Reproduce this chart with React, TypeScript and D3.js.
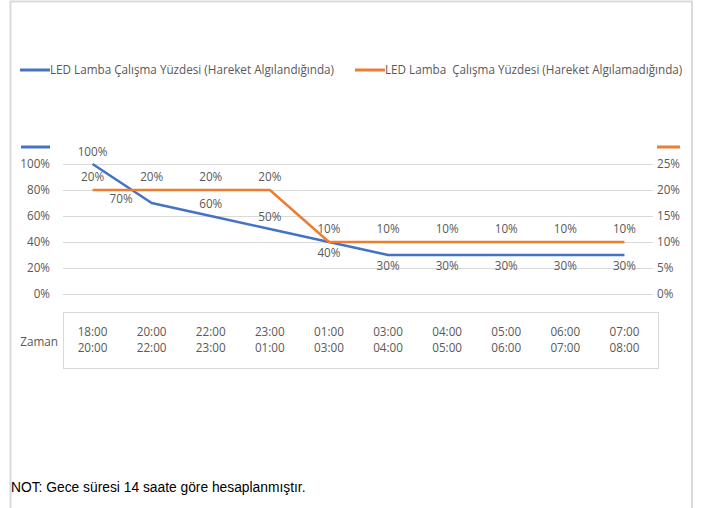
// Externals
import * as d3 from 'd3'
import React, { useEffect, useRef } from 'react'

// Chart data
const startTimes = ['18:00', '20:00', '22:00', '23:00', '01:00', '03:00', '04:00', '05:00', '06:00', '07:00']
const endTimes = ['20:00', '22:00', '23:00', '01:00', '03:00', '04:00', '05:00', '06:00', '07:00', '08:00']
const detectedValues = [1.0, 0.7, 0.6, 0.5, 0.4, 0.3, 0.3, 0.3, 0.3, 0.3]
const notDetectedValues = [0.2, 0.2, 0.2, 0.2, 0.1, 0.1, 0.1, 0.1, 0.1, 0.1]
const leftTicks = [0, 0.2, 0.4, 0.6, 0.8, 1.0]
const rightTicks = [0, 0.05, 0.1, 0.15, 0.2, 0.25]
const detectedName = 'LED Lamba Çalışma Yüzdesi (Hareket Algılandığında)'
const notDetectedName = 'LED Lamba  Çalışma Yüzdesi (Hareket Algılamadığında)'

// where the blue data labels sit (Excel placed them by hand)
const detectedLabelPos = ['above', 'left', 'above', 'above', 'below', 'below', 'below', 'below', 'below', 'below']

const BLUE = '#4472C4'
const ORANGE = '#ED7D31'
const GREY = '#595959'
const GRID = '#d9d9d9'
const FONT = '"Open Sans", sans-serif'
const FS = 11.7

const App = () => {
  const svgRef = useRef<any>(null)

  useEffect(() => {
    if (!svgRef.current) return
    const svg = d3.select(svgRef.current)
    svg.selectAll('*').remove()

    const width = 704
    const height = 508
    svg.attr('width', width).attr('height', height)

    const x = d3.scaleBand().domain(startTimes.map((d, i) => String(i))).range([63, 654])
    const cx = (i: number) => (x(String(i)) as number) + x.bandwidth() / 2
    const yLeft = d3.scaleLinear().domain([0, 1]).range([294, 164])
    const yRight = d3.scaleLinear().domain([0, 0.25]).range([294, 164])
    const pct = d3.format('.0%')

    // chart frame
    svg.append('path')
      .attr('d', `M10.5,${height} V1.5 H692 V${height}`)
      .attr('fill', 'none')
      .attr('stroke', GRID)
      .attr('stroke-width', 2)

    // legend
    const legend = [
      { name: detectedName, color: BLUE, x: 20 },
      { name: notDetectedName, color: ORANGE, x: 355 },
    ]
    legend.forEach((l) => {
      svg.append('line')
        .attr('x1', l.x).attr('x2', l.x + 30)
        .attr('y1', 70).attr('y2', 70)
        .attr('stroke', l.color).attr('stroke-width', 3)
      svg.append('text')
        .attr('x', l.x + 30).attr('y', 74)
        .attr('font-family', FONT).attr('font-size', FS)
        .attr('fill', GREY)
        .style('white-space', 'pre')
        .text(l.name)
    })

    // series markers above axes
    svg.append('line').attr('x1', 21).attr('x2', 50).attr('y1', 147).attr('y2', 147)
      .attr('stroke', BLUE).attr('stroke-width', 3)
    svg.append('line').attr('x1', 657).attr('x2', 680).attr('y1', 147).attr('y2', 147)
      .attr('stroke', ORANGE).attr('stroke-width', 3)

    // gridlines + axes
    svg.selectAll('.grid')
      .data(leftTicks)
      .enter()
      .append('line')
      .attr('class', 'grid')
      .attr('x1', 63).attr('x2', 653)
      .attr('y1', (d) => Math.round(yLeft(d)) + 0.5)
      .attr('y2', (d) => Math.round(yLeft(d)) + 0.5)
      .attr('stroke', GRID).attr('stroke-width', 1)

    svg.selectAll('.left-tick')
      .data(leftTicks)
      .enter()
      .append('text')
      .attr('class', 'left-tick')
      .attr('x', 50).attr('y', (d) => yLeft(d))
      .attr('dy', '0.35em')
      .attr('text-anchor', 'end')
      .attr('font-family', FONT).attr('font-size', FS)
      .attr('fill', GREY)
      .text((d) => pct(d))

    svg.selectAll('.right-tick')
      .data(rightTicks)
      .enter()
      .append('text')
      .attr('class', 'right-tick')
      .attr('x', 657).attr('y', (d) => yRight(d))
      .attr('dy', '0.35em')
      .attr('font-family', FONT).attr('font-size', FS)
      .attr('fill', GREY)
      .text((d) => pct(d))

    // lines
    const lineLeft = d3.line<number>().x((d, i) => cx(i)).y((d) => yLeft(d))
    const lineRight = d3.line<number>().x((d, i) => cx(i)).y((d) => yRight(d))

    svg.append('path')
      .attr('d', lineLeft(detectedValues))
      .attr('fill', 'none').attr('stroke', BLUE)
      .attr('stroke-width', 2.5).attr('stroke-linejoin', 'round')
    svg.append('path')
      .attr('d', lineRight(notDetectedValues))
      .attr('fill', 'none').attr('stroke', ORANGE)
      .attr('stroke-width', 2.5).attr('stroke-linejoin', 'round')

    // data labels
    svg.selectAll('.blue-label')
      .data(detectedValues)
      .enter()
      .append('text')
      .attr('class', 'blue-label')
      .attr('x', (d, i) => detectedLabelPos[i] === 'left' ? cx(i) - 19 : cx(i))
      .attr('y', (d, i) => {
        const p = detectedLabelPos[i]
        if (p === 'above') return yLeft(d) - 12
        if (p === 'below') return yLeft(d) + 11
        return yLeft(d) - 4
      })
      .attr('dy', '0.35em')
      .attr('text-anchor', (d, i) => detectedLabelPos[i] === 'left' ? 'end' : 'middle')
      .attr('font-family', FONT).attr('font-size', FS)
      .attr('fill', GREY)
      .text((d) => pct(d))

    svg.selectAll('.orange-label')
      .data(notDetectedValues)
      .enter()
      .append('text')
      .attr('class', 'orange-label')
      .attr('x', (d, i) => cx(i))
      .attr('y', (d) => yRight(d) - 13)
      .attr('dy', '0.35em')
      .attr('text-anchor', 'middle')
      .attr('font-family', FONT).attr('font-size', FS)
      .attr('fill', GREY)
      .text((d) => pct(d))

    // category table
    svg.append('rect')
      .attr('x', 63.5).attr('y', 312.5)
      .attr('width', 595).attr('height', 56)
      .attr('fill', 'none').attr('stroke', GRID)

    svg.append('text')
      .attr('x', 58).attr('y', 342)
      .attr('dy', '0.35em')
      .attr('text-anchor', 'end')
      .attr('font-family', FONT).attr('font-size', FS)
      .attr('fill', GREY)
      .text('Zaman')

    svg.selectAll('.cat-start')
      .data(startTimes)
      .enter()
      .append('text')
      .attr('class', 'cat-start')
      .attr('x', (d, i) => cx(i)).attr('y', 332)
      .attr('dy', '0.35em')
      .attr('text-anchor', 'middle')
      .attr('font-family', FONT).attr('font-size', FS)
      .attr('fill', GREY)
      .text((d) => d)

    svg.selectAll('.cat-end')
      .data(endTimes)
      .enter()
      .append('text')
      .attr('class', 'cat-end')
      .attr('x', (d, i) => cx(i)).attr('y', 347.5)
      .attr('dy', '0.35em')
      .attr('text-anchor', 'middle')
      .attr('font-family', FONT).attr('font-size', FS)
      .attr('fill', GREY)
      .text((d) => d)

    // footnote
    svg.append('text')
      .attr('x', 11).attr('y', 492)
      .attr('font-family', '"Liberation Sans", Arial, sans-serif')
      .attr('font-size', 13.8)
      .attr('fill', '#000')
      .text('NOT: Gece süresi 14 saate göre hesaplanmıştır.')
  }, [])

  return (
    <div style={{ position: 'absolute', left: 0, top: 0 }}>
      <svg ref={svgRef} style={{ display: 'block' }}></svg>
    </div>
  )
}

export default App
